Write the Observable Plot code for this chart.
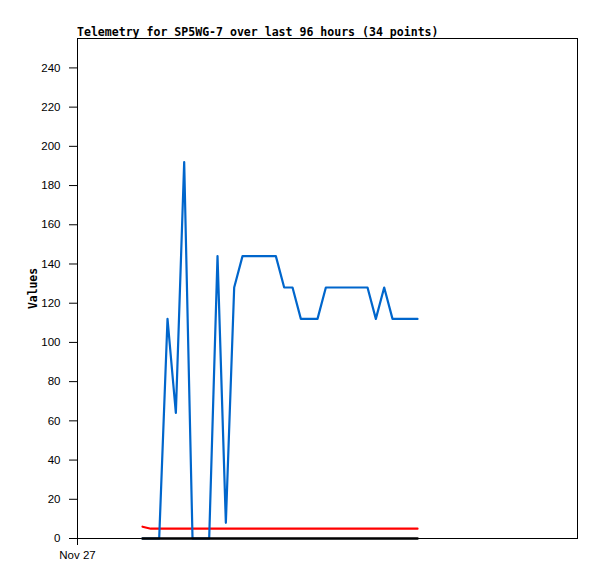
<!DOCTYPE html>
<html>
<head>
<meta charset="utf-8">
<script src="https://cdn.jsdelivr.net/npm/d3@7"></script>
<script src="https://cdn.jsdelivr.net/npm/@observablehq/plot@0.6"></script>
<style>
  html, body { margin: 0; padding: 0; background: #fff; }
  #wrap { width: 597px; height: 579px; position: relative; }
  #title {
    height: 36px; box-sizing: border-box; padding-top: 26px; padding-left: 77px;
    font: bold 11.55px "DejaVu Sans Mono", monospace; line-height: 12px; color: #000;
    white-space: nowrap; overflow: visible;
  }
  g[aria-label="y-axis label"] text { font: bold 11.4px "DejaVu Sans Mono", monospace; }
</style>
</head>
<body>
<div id="wrap">
  <div id="title">Telemetry for SP5WG-7 over last 96 hours (34 points)</div>
  <div id="chart"></div>
</div>
<script>
const times = ["2024-11-27T12:29","2024-11-27T14:05","2024-11-27T15:41","2024-11-27T17:17","2024-11-27T18:53","2024-11-27T20:29","2024-11-27T22:05","2024-11-27T23:41","2024-11-28T01:17","2024-11-28T02:53","2024-11-28T04:29","2024-11-28T06:05","2024-11-28T07:41","2024-11-28T09:17","2024-11-28T10:53","2024-11-28T12:29","2024-11-28T14:05","2024-11-28T15:41","2024-11-28T17:17","2024-11-28T18:53","2024-11-28T20:29","2024-11-28T22:05","2024-11-28T23:41","2024-11-29T01:17","2024-11-29T02:53","2024-11-29T04:29","2024-11-29T06:05","2024-11-29T07:41","2024-11-29T09:17","2024-11-29T10:53","2024-11-29T12:29","2024-11-29T14:05","2024-11-29T15:41","2024-11-29T17:17"];
const blueValues = [0,0,0,112,64,192,0,0,0,144,8,128,144,144,144,144,144,128,128,112,112,112,128,128,128,128,128,128,112,128,112,112,112,112];
const redValues = [6,5,5,5,5,5,5,5,5,5,5,5,5,5,5,5,5,5,5,5,5,5,5,5,5,5,5,5,5,5,5,5,5,5];
const blackValues = [0,0,0,0,0,0,0,0,0,0,0,0,0,0,0,0,0,0,0,0,0,0,0,0,0,0,0,0,0,0,0,0,0,0];
const yTicks = [0,20,40,60,80,100,120,140,160,180,200,220,240];
const xStart = "2024-11-27T00:00";
const xEnd = "2024-12-01T00:00";
const xTicks = ["2024-11-27T00:00"];

const parse = s => new Date(s + ":00Z");
const rows = times.map((t, i) => ({t: parse(t), blue: blueValues[i], red: redValues[i], black: blackValues[i]}));

const chart = Plot.plot({
  width: 597,
  height: 543,
  marginTop: 2,
  marginLeft: 77,
  marginRight: 20,
  marginBottom: 41,
  style: {fontFamily: "'Liberation Sans', Arial, sans-serif", fontSize: "11.5px", color: "#000", background: "#fff", overflow: "visible"},
  x: {type: "utc", domain: [parse(xStart), parse(xEnd)]},
  y: {domain: [0, 255]},
  marks: [
    Plot.frame({stroke: "#000", strokeWidth: 1}),
    Plot.axisY({ticks: yTicks, tickSize: 8, tickPadding: 9, label: "Values", labelAnchor: "center", labelOffset: 49, labelArrow: "none"}),
    Plot.axisX({ticks: xTicks.map(parse), tickSize: 7, tickPadding: 5, tickFormat: d3.utcFormat("%b %d"), label: null}),
    Plot.line(rows, {x: "t", y: "red", stroke: "#ff0000", strokeWidth: 2.2, curve: "linear"}),
    Plot.line(rows, {x: "t", y: "blue", stroke: "#0066cc", strokeWidth: 2.2, curve: "linear"}),
    Plot.line(rows, {x: "t", y: "black", stroke: "#000000", strokeWidth: 2.5, curve: "linear"})
  ]
});
document.getElementById("chart").appendChild(chart);
</script>
</body>
</html>
